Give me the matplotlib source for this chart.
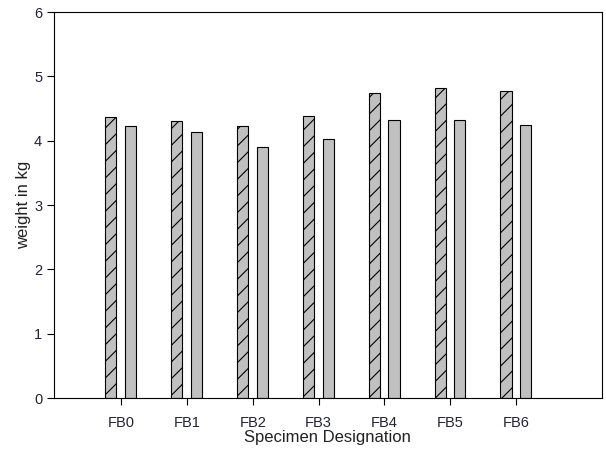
import matplotlib.pyplot as plt
import numpy as np

plt.rcParams['font.family'] = ['Liberation Sans', 'DejaVu Sans']
plt.rcParams['hatch.linewidth'] = 0.8

specimens = ["FB0", "FB1", "FB2", "FB3", "FB4", "FB5", "FB6"]
hatched_vals = [4.37, 4.31, 4.23, 4.39, 4.75, 4.82, 4.77]
plain_vals = [4.23, 4.13, 3.91, 4.03, 4.32, 4.32, 4.25]

x = np.arange(len(specimens))
w = 0.17

fig = plt.figure(figsize=(6.06, 4.51), dpi=100)
ax = fig.add_axes([0.089, 0.1175, 0.904, 0.8555])

ax.bar(x - 0.155, hatched_vals, w, color="#c0c0c0", edgecolor="black",
       linewidth=0.8, hatch="//")
ax.bar(x + 0.145, plain_vals, w, color="#c0c0c0", edgecolor="black",
       linewidth=0.8)

ax.set_xlim(-1.02, 7.3)
ax.set_ylim(0, 6)
ax.set_xticks(x)
ax.set_xticklabels(specimens)
ax.set_yticks(range(7))
ax.tick_params(direction="out", length=5, labelsize=10.5, colors="black",
               labelcolor="#22223a")
ax.tick_params(axis="x", pad=8)
ax.set_xlabel("Specimen Designation", fontsize=12, labelpad=0, color="#222222")
ax.set_ylabel("weight in kg", fontsize=12, labelpad=2, color="#222222")

fig.savefig("out.png", dpi=100)
